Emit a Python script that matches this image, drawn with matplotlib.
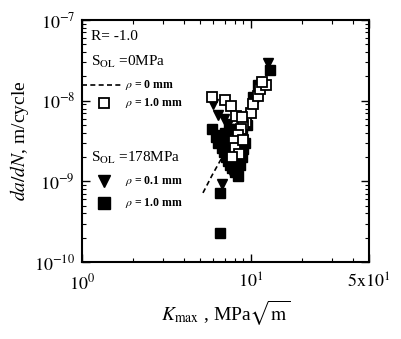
import matplotlib.pyplot as plt
from matplotlib.ticker import FixedLocator, LogLocator, NullFormatter

plt.rcParams['font.family'] = ['Liberation Serif', 'DejaVu Serif']
plt.rcParams['mathtext.fontset'] = 'stix'

# S_OL = 0 MPa, rho = 0 mm (dashed curve)
k_dash = [5.2, 5.9, 6.85]
da_dash = [7.2e-10, 1.2e-9, 2.1e-9]

# S_OL = 0 MPa, rho = 1.0 mm (open squares)
k_open = [5.88, 7.0, 7.6, 8.2, 9.3, 9.0, 10.0, 10.3, 11.0, 11.3, 12.3, 11.6,
          8.7, 8.4, 7.9, 8.1, 8.5, 7.7, 9.0, 8.9]
da_open = [1.1e-8, 1.02e-8, 8.5e-9, 6.5e-9, 5.5e-9, 5.0e-9, 7.0e-9, 9.0e-9, 1.15e-8, 1.4e-8, 1.55e-8, 1.7e-8,
           4.5e-9, 3.8e-9, 3.2e-9, 2.6e-9, 2.2e-9, 2.0e-9, 3.3e-9, 6.2e-9]

# S_OL = 178 MPa, rho = 0.1 mm (filled triangles)
k_tri = [5.95, 6.4, 6.7, 12.6, 7.0, 7.5, 7.8, 8.1, 7.6, 8.3, 8.7, 9.0, 7.9, 7.3, 6.9, 8.0]
da_tri = [9.0e-9, 6.6e-9, 9.2e-10, 2.9e-8, 3.5e-9, 2.8e-9, 2.0e-9, 1.6e-9, 1.3e-9, 1.8e-9, 2.8e-9, 3.3e-9,
          4.5e-9, 5.2e-9, 6.0e-9, 1.2e-9]

# S_OL = 178 MPa, rho = 1.0 mm (filled squares)
k_sq = [5.9, 6.2, 6.4, 6.6, 6.7, 6.9, 7.1, 7.3, 7.5, 7.7, 8.0, 8.4, 8.2, 8.6, 8.8, 9.0, 9.2,
        7.2, 7.6, 8.0, 7.0, 7.4, 8.3, 8.8, 6.6, 6.6, 11.0, 10.3, 12.9, 9.5, 6.5, 6.8]
da_sq = [4.4e-9, 3.5e-9, 3.0e-9, 3.2e-9, 2.6e-9, 2.3e-9, 2.0e-9, 1.8e-9, 1.6e-9, 1.45e-9, 1.3e-9, 1.15e-9,
         1.5e-9, 1.6e-9, 2.0e-9, 2.5e-9, 3.0e-9, 3.0e-9, 2.5e-9, 2.2e-9, 4.0e-9, 4.5e-9, 3.5e-9, 4.0e-9,
         7.2e-10, 2.3e-10, 1.57e-8, 1.1e-8, 2.4e-8, 5.0e-9, 3.8e-9, 3.3e-9]

fig = plt.figure(figsize=(4.02, 3.39), dpi=100)
ax = fig.add_axes([0.204, 0.227, 0.714, 0.714])

ax.plot(k_dash, da_dash, '--', color='k', lw=1.2, dashes=(3, 2))
ax.plot(k_sq, da_sq, 's', color='k', ms=6.5, mec='k')
ax.plot(k_tri, da_tri, 'v', color='k', ms=7.5, mec='k')
ax.plot(k_open, da_open, 's', mfc='white', mec='k', mew=1.3, ms=6.5)

ax.set_xscale('log')
ax.set_yscale('log')
ax.set_xlim(1, 50)
ax.set_ylim(1e-10, 1e-7)

ax.xaxis.set_major_locator(FixedLocator([1, 10, 50]))
ax.set_xticklabels(['$10^0$', '$10^1$', r'$5\mathrm{x}10^1$'])
ax.xaxis.set_minor_locator(LogLocator(base=10, subs=range(2, 10)))
ax.xaxis.set_minor_formatter(NullFormatter())
ax.yaxis.set_major_locator(FixedLocator([1e-10, 1e-9, 1e-8, 1e-7]))
ax.set_yticklabels(['$10^{-10}$', '$10^{-9}$', '$10^{-8}$', '$10^{-7}$'])
ax.yaxis.set_minor_locator(LogLocator(base=10, subs=range(2, 10)))
ax.yaxis.set_minor_formatter(NullFormatter())
ax.tick_params(which='both', direction='in', top=True, right=True, labelsize=13)
ax.tick_params(which='major', length=6, width=1)
ax.tick_params(which='minor', length=3, width=0.8)
ax.tick_params(axis='x', which='major', pad=8)
ax.tick_params(axis='y', which='major', pad=5)
for s in ax.spines.values():
    s.set_linewidth(1.5)

ax.set_xlabel(r'$K_{\mathrm{max}}$ , MPa$\sqrt{\mathrm{m}}$', fontsize=14, labelpad=4)
ax.set_ylabel(r'$da/dN$, m/cycle', fontsize=14, labelpad=2)

# legend block
tr = ax.transAxes
ax.text(0.03, 0.93, 'R= -1.0', transform=tr, fontsize=11, va='center')
ax.text(0.03, 0.826, r'S$_{\mathrm{OL}}$ =0MPa', transform=tr, fontsize=11, va='center')
ax.plot([0.0, 0.14], [0.731, 0.731], '--', color='k', lw=1.2, dashes=(3, 2), transform=tr, clip_on=False)
ax.text(0.15, 0.731, r'$\rho$ = 0 mm', transform=tr, fontsize=8.5, va='center', weight='bold')
ax.plot([0.075], [0.657], 's', mfc='white', mec='k', mew=1.3, ms=7, transform=tr)
ax.text(0.15, 0.657, r'$\rho$ = 1.0 mm', transform=tr, fontsize=8.5, va='center', weight='bold')
ax.text(0.03, 0.43, r'S$_{\mathrm{OL}}$ =178MPa', transform=tr, fontsize=11, va='center')
ax.plot([0.075], [0.335], 'v', color='k', ms=8, transform=tr)
ax.text(0.15, 0.335, r'$\rho$ = 0.1 mm', transform=tr, fontsize=8.5, va='center', weight='bold')
ax.plot([0.075], [0.244], 's', color='k', ms=8, transform=tr)
ax.text(0.15, 0.244, r'$\rho$ = 1.0 mm', transform=tr, fontsize=8.5, va='center', weight='bold')

fig.savefig('out.png', dpi=100)
